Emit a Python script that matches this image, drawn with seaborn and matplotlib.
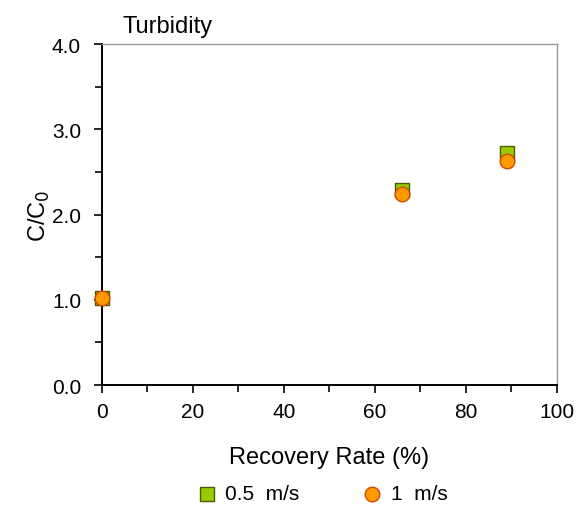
import matplotlib
matplotlib.use("Agg")
import matplotlib.pyplot as plt
import seaborn as sns
import pandas as pd
from matplotlib.ticker import MultipleLocator

sns.set_style("white")
plt.rcParams['font.family'] = ['Liberation Sans', 'DejaVu Sans']
plt.rcParams['text.color'] = 'black'
plt.rcParams['axes.labelcolor'] = 'black'
plt.rcParams['xtick.color'] = 'black'
plt.rcParams['ytick.color'] = 'black'

recovery = [0, 66, 89]
c_05 = [1.02, 2.29, 2.72]
c_1 = [1.02, 2.24, 2.63]
series = ["0.5  m/s", "1  m/s"]

df = pd.DataFrame({
    "Recovery": recovery * 2,
    "C": c_05 + c_1,
    "Series": [series[0]] * 3 + [series[1]] * 3,
})

fig = plt.figure(figsize=(5.79, 5.06), dpi=100)
ax = fig.add_axes([0.176, 0.237, 0.786, 0.674])

palette = {series[0]: "#99CC00", series[1]: "#FF9900"}
markers = {series[0]: "s", series[1]: "o"}
edges = {series[0]: "#4D5C00", series[1]: "#D04A00"}

for s in series:
    sub = df[df["Series"] == s]
    sns.scatterplot(data=sub, x="Recovery", y="C", ax=ax, color=palette[s],
                    marker=markers[s], s=110, edgecolor=edges[s], linewidth=1.0,
                    label=s, clip_on=False, zorder=3, legend=True)

ax.set_xlim(0, 100)
ax.set_ylim(0, 4)
ax.xaxis.set_major_locator(MultipleLocator(20))
ax.xaxis.set_minor_locator(MultipleLocator(10))
ax.yaxis.set_major_locator(MultipleLocator(1))
ax.yaxis.set_minor_locator(MultipleLocator(0.5))
ax.yaxis.set_major_formatter(matplotlib.ticker.FormatStrFormatter('%.1f'))
ax.tick_params(which='both', direction='out', length=6, width=1.2, color='black',
               bottom=True, left=True, top=False, right=False, labelsize=15)
ax.tick_params(which='minor', length=5)
ax.tick_params(axis='y', pad=9)
ax.tick_params(axis='x', pad=6)
for sp in ['left', 'bottom']:
    ax.spines[sp].set_color('black')
    ax.spines[sp].set_linewidth(1.4)
for sp in ['top', 'right']:
    ax.spines[sp].set_color('#999999')
    ax.spines[sp].set_linewidth(1.0)

ax.set_xlabel("Recovery Rate (%)", fontsize=17, labelpad=18)
ax.set_ylabel("C/C$_0$", fontsize=17, labelpad=0)
ax.text(0.045, 1.02, "Turbidity", transform=ax.transAxes, fontsize=17,
        ha='left', va='bottom')

handles, labels = ax.get_legend_handles_labels()
ax.get_legend().remove()
fig.legend(handles, labels, loc='center', bbox_to_anchor=(0.556, 0.022), ncol=2,
           frameon=False, fontsize=15, handlelength=1.0, handletextpad=0.38,
           columnspacing=3.0, markerscale=1.0, borderaxespad=0, borderpad=0)

fig.savefig("out.png", dpi=100)
